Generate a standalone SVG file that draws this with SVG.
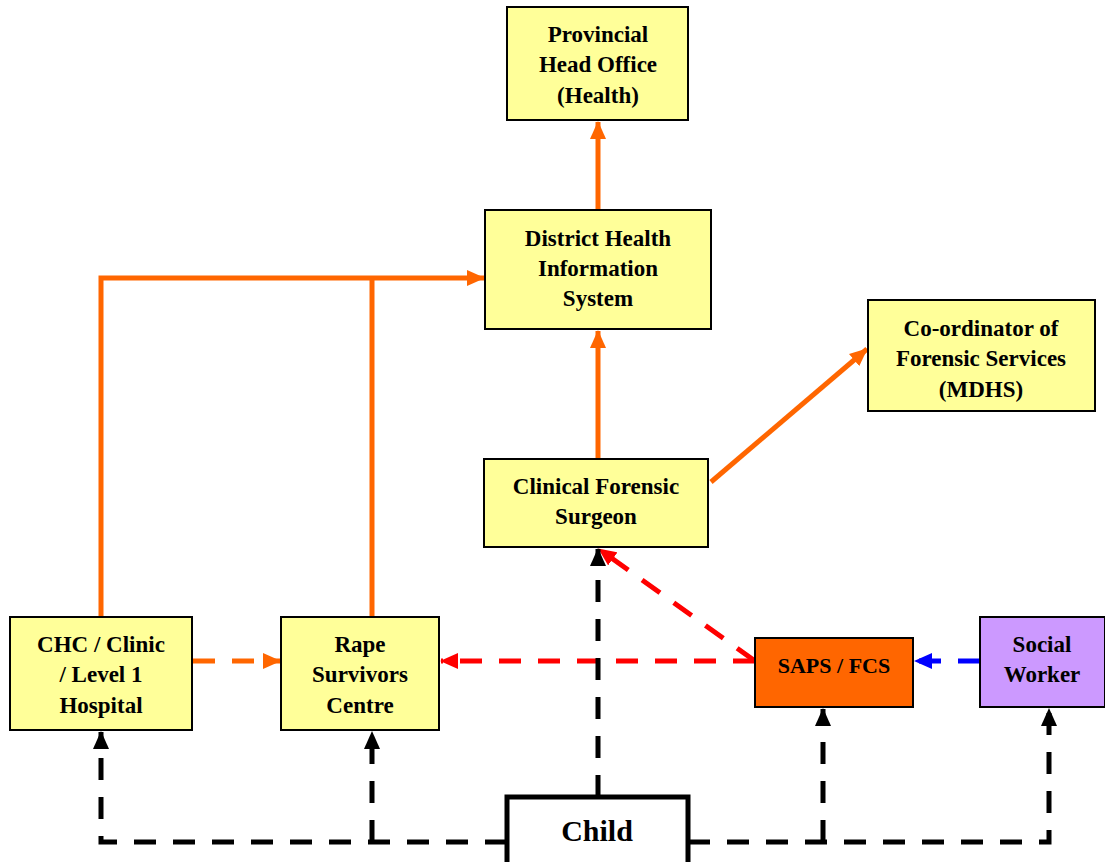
<svg xmlns="http://www.w3.org/2000/svg" width="1105" height="862" viewBox="0 0 1105 862">
<style>
.box{fill:#FFFF99;stroke:#000;stroke-width:2}
.t{font-family:"Liberation Serif","DejaVu Serif",serif;font-weight:bold;font-size:23px;text-anchor:middle;fill:#000}
.or{fill:none;stroke:#FF6600;stroke-width:5}
.dash{fill:none;stroke-width:5;stroke-dasharray:22 17}
</style>
<defs>
<marker id="aO" markerUnits="userSpaceOnUse" markerWidth="18" markerHeight="16" refX="17" refY="8" orient="auto"><path d="M0,0 L18,8 L0,16 z" fill="#FF6600"/></marker>
<marker id="aR" markerUnits="userSpaceOnUse" markerWidth="18" markerHeight="16" refX="17" refY="8" orient="auto"><path d="M0,0 L18,8 L0,16 z" fill="#FF0000"/></marker>
<marker id="aB" markerUnits="userSpaceOnUse" markerWidth="18" markerHeight="16" refX="17" refY="8" orient="auto"><path d="M0,0 L18,8 L0,16 z" fill="#0000FF"/></marker>
<marker id="aK" markerUnits="userSpaceOnUse" markerWidth="18" markerHeight="16" refX="17" refY="8" orient="auto"><path d="M0,0 L18,8 L0,16 z" fill="#000"/></marker>
</defs>
<rect width="1105" height="862" fill="#fff"/>
<g id="connectors">
<path class="or" d="M598,210 V122" marker-end="url(#aO)"/>
<path class="or" d="M598,459 V331" marker-end="url(#aO)"/>
<path class="or" d="M711,482 L867,349" marker-end="url(#aO)"/>
<path class="or" d="M101,617 V278 H484" marker-end="url(#aO)"/>
<path class="or" d="M372,617 V278"/>
<path class="dash" stroke="#FF6600" d="M193,661 H280" marker-end="url(#aO)"/>
<path class="dash" stroke="#FF0000" d="M755,661 H441" marker-end="url(#aR)"/>
<path class="dash" stroke="#FF0000" d="M755,661 L599,549" marker-end="url(#aR)"/>
<path class="dash" stroke="#0000FF" d="M980,661 H915" marker-end="url(#aB)"/>
<path class="dash" stroke="#000" d="M598,797 V549" marker-end="url(#aK)"/>
<path class="dash" stroke="#000" d="M507,842 H101 V732" marker-end="url(#aK)"/>
<path class="dash" stroke="#000" d="M372,842 V732" marker-end="url(#aK)"/>
<path class="dash" stroke="#000" d="M688,842 H1049 V709" marker-end="url(#aK)"/>
<path class="dash" stroke="#000" d="M823,842 V709" marker-end="url(#aK)"/>
</g>
<g id="provincial"><rect class="box" x="507" y="7" width="181" height="113"/>
<text class="t" x="598" y="42">Provincial</text><text class="t" x="598" y="72">Head Office</text><text class="t" x="598" y="103">(Health)</text></g>
<g id="dhis"><rect class="box" x="485" y="210" width="226" height="119"/>
<text class="t" x="598" y="246">District Health</text><text class="t" x="598" y="276">Information</text><text class="t" x="598" y="306">System</text></g>
<g id="coordinator"><rect class="box" x="868" y="300" width="227" height="111"/>
<text class="t" x="981" y="336">Co-ordinator of</text><text class="t" x="981" y="366">Forensic Services</text><text class="t" x="981" y="397">(MDHS)</text></g>
<g id="surgeon"><rect class="box" x="484" y="459" width="224" height="88"/>
<text class="t" x="596" y="494">Clinical Forensic</text><text class="t" x="596" y="524">Surgeon</text></g>
<g id="chc"><rect class="box" x="10" y="617" width="182" height="113"/>
<text class="t" x="101" y="652">CHC / Clinic</text><text class="t" x="101" y="682">/ Level 1</text><text class="t" x="101" y="713">Hospital</text></g>
<g id="rape"><rect class="box" x="281" y="617" width="158" height="113"/>
<text class="t" x="360" y="652">Rape</text><text class="t" x="360" y="682">Survivors</text><text class="t" x="360" y="713">Centre</text></g>
<g id="saps"><rect x="755" y="638" width="158" height="69" fill="#FF6600" stroke="#000" stroke-width="2"/>
<text class="t" x="834" y="673" style="font-size:22px">SAPS / FCS</text></g>
<g id="social"><rect x="980" y="617" width="125" height="90" fill="#CC99FF" stroke="#000" stroke-width="2"/>
<text class="t" x="1042" y="652">Social</text><text class="t" x="1042" y="682">Worker</text></g>
<g id="child"><rect x="507" y="797" width="181" height="75" fill="#fff" stroke="#000" stroke-width="5"/>
<text class="t" x="597" y="841" style="font-size:30px">Child</text></g>
</svg>
